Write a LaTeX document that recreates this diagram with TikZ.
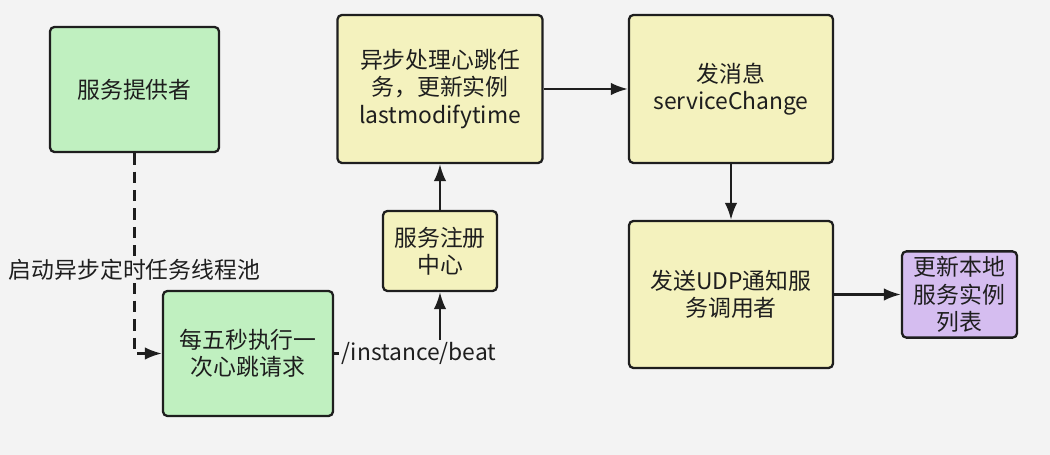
\documentclass[tikz,border=0pt]{standalone}
\usepackage{fontspec}
\setmainfont{Noto Sans CJK SC}
\usepackage{tikz}
\usetikzlibrary{arrows.meta,positioning}
\usepackage{xcolor}
\definecolor{paper}{HTML}{F3F3F3}
\definecolor{mint}{HTML}{C0F0C0}
\definecolor{straw}{HTML}{F4F2BE}
\definecolor{lilac}{HTML}{D5BDF0}
\definecolor{ink}{HTML}{1E1E1E}
\tikzset{
  >={Latex[length=3.4mm,width=2.5mm]},
  every node/.style={font=\fontsize{13}{15.5}\selectfont,text=ink},
  box/.style={draw=ink,line width=1.3pt,rounded corners=2.5pt,fill=straw,align=center,inner sep=3pt},
  greenbox/.style={box,fill=mint},
  listbox/.style={box,fill=lilac},
  arrow/.style={->,line width=1.3pt,draw=ink},
  async/.style={arrow,dash pattern=on 6.5pt off 4pt},
  label/.style={fill=paper,inner sep=1.5pt},
}

\begin{document}
\begin{tikzpicture}[x=1cm,y=1cm]
  \fill[paper] (0,0) rectangle (21,9.1);
  \useasboundingbox (0,0) rectangle (21,9.1);

  \node[greenbox,minimum width=33.8mm,minimum height=25mm] (provider) at (2.69,7.31) {服务提供者};
  \node[greenbox,minimum width=34mm,minimum height=25mm] (beat) at (4.96,2.03) {每五秒执行一\\次心跳请求};
  \node[box,minimum width=22.8mm,minimum height=16mm] (registry) at (8.8,4.08) {服务注册\\中心};
  \node[box,minimum width=41mm,minimum height=29.6mm] (handle) at (8.8,7.32) {异步处理心跳任\\务，更新实例\\lastmodifytime};
  \node[box,minimum width=40.8mm,minimum height=29.6mm] (change) at (14.62,7.32) {发消息\\serviceChange};
  \node[box,minimum width=40.8mm,minimum height=29.4mm] (udp) at (14.62,3.21) {发送UDP通知服\\务调用者};
  \node[listbox,minimum width=23mm,minimum height=16.6mm] (local) at (19.19,3.21) {更新本地\\服务实例\\列表};

  \draw[async] (provider.south) |- node[label,pos=0.29]{启动异步定时任务线程池} (beat.west);
  \draw[arrow] (beat.east) -| node[label,pos=0.40]{/instance/beat} (registry.south);
  \draw[arrow] (registry) -- (handle);
  \draw[arrow] (handle) -- (change);
  \draw[arrow] (change) -- (udp);
  \draw[arrow] (udp) -- (local);
\end{tikzpicture}
\end{document}
